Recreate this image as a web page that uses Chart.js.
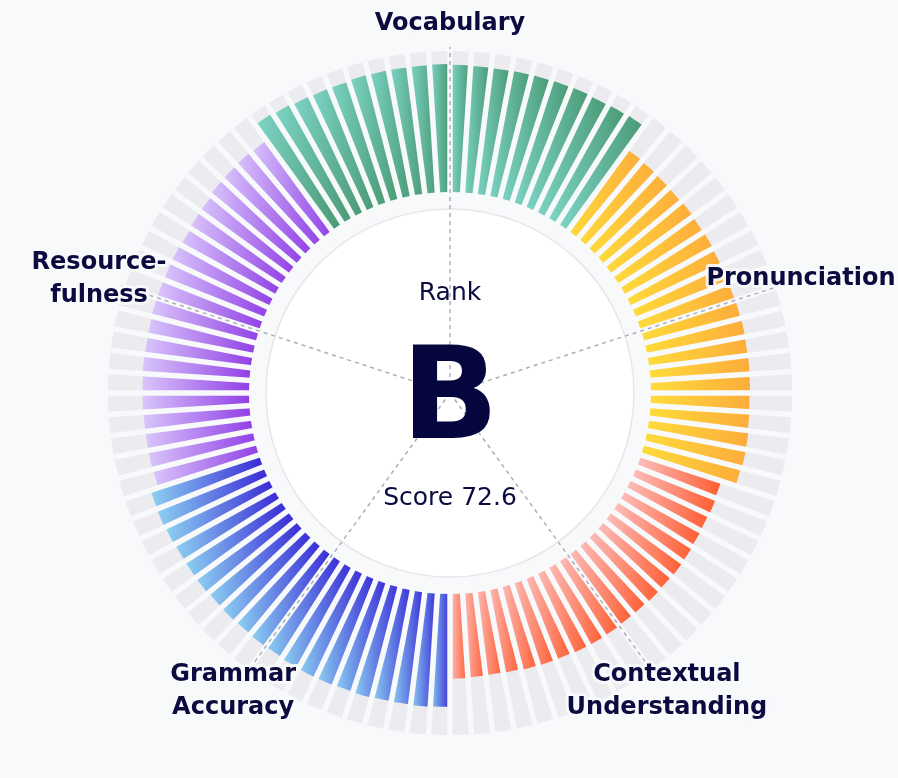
<!DOCTYPE html>
<html>
<head>
<meta charset="utf-8">
<title>Skill ring</title>
<script src="https://cdn.jsdelivr.net/npm/chart.js@4.4.1/dist/chart.umd.min.js"></script>
<style>
  html, body { margin: 0; padding: 0; background: #f8f9fb; }
  canvas { display: block; }
</style>
</head>
<body>
<canvas id="chart" width="898" height="778"></canvas>
<script>
const categories = ['Vocabulary', 'Pronunciation', 'Contextual Understanding', 'Grammar Accuracy', 'Resourcefulness']
const labelLines = [['Vocabulary'], ['Pronunciation'], ['Contextual', 'Understanding'], ['Grammar', 'Accuracy'], ['Resource-', 'fulness']]

// 20 bars per category, clockwise from the left edge of each sector
const vocabulary = [92.5, 91.4, 90.3, 89.9, 89.8, 90.4, 90.4, 90.4, 90.4, 90.7, 90.2, 89.9, 89.7, 90.2, 90.3, 90.6, 90.8, 90.3, 90.8, 91.3]
const pronunciation = [71.2, 70.8, 70.4, 70.0, 70.6, 70.1, 70.4, 69.9, 70.1, 69.8, 70.2, 70.5, 70.2, 70.4, 70.2, 69.9, 70.2, 70.9, 71.1, 70.4]
const contextual = [59.7, 60.4, 60.0, 60.5, 61.1, 61.6, 61.2, 61.6, 61.1, 61.2, 61.6, 61.8, 61.7, 60.9, 60.8, 60.4, 59.5, 59.1, 59.4, 60.0]
const grammar = [80.0, 80.4, 80.1, 80.0, 80.6, 80.1, 80.6, 80.7, 80.2, 79.6, 79.9, 79.4, 79.9, 79.6, 80.3, 80.2, 80.0, 80.6, 81.1, 80.7]
const resourcefulness = [74.9, 75.2, 75.1, 75.2, 75.5, 75.5, 75.9, 75.5, 75.6, 76.0, 75.7, 75.6, 75.7, 75.1, 76.0, 76.6, 78.3, 78.7, 79.2, 78.8]

const rank = 'B'
const score = 72.6
const MAX_VALUE = 100

// left -> right colour of each bar, per category
const GRADIENTS = [
  ['#7fd6c8', '#489872'],
  ['#ffdb3a', '#fcac3b'],
  ['#fcbfbd', '#fe5c30'],
  ['#8dd2f1', '#3828d6'],
  ['#d9c5fb', '#9140e5']
]

const PAGE_BG = '#f8f9fb'
const TRACK_COLOR = '#ebebf0'
const TEXT_COLOR = '#0c0b40'
const FONT = '"DejaVu Sans", "Noto Sans", sans-serif'

const series = [vocabulary, pronunciation, contextual, grammar, resourcefulness]
const BARS = vocabulary.length
const values = series.flat()
const labels = values.map((v, i) => categories[Math.floor(i / BARS)])
const trackValues = values.map(() => MAX_VALUE)

// value 0 sits on the inner edge of the ring (201px of a 342px radius)
const SCALE_MIN = -MAX_VALUE * 201 / (342 - 201)

function barGradient (context) {
  const k = Math.floor(context.dataIndex / BARS)
  const [left, right] = GRADIENTS[k]
  const chart = context.chart
  const scale = chart.scales.r
  if (!chart.chartArea || !scale || scale.xCenter === undefined) return right

  const i = context.dataIndex
  const r0 = scale.getDistanceFromCenterForValue(0)
  const r1 = scale.getDistanceFromCenterForValue(context.raw)
  const a0 = scale.getIndexAngle(i) - Math.PI / 2
  const a1 = a0 + 2 * Math.PI / values.length
  const xs = [r0, r1].flatMap(r => [a0, a1].map(a => scale.xCenter + r * Math.cos(a)))
  const g = chart.ctx.createLinearGradient(Math.min(...xs), 0, Math.max(...xs) + 0.01, 0)
  g.addColorStop(0, left)
  g.addColorStop(1, right)
  return g
}

const ringPlugin = {
  id: 'ring',
  afterDraw (chart) {
    const { ctx } = chart
    const scale = chart.scales.r
    const cx = scale.xCenter
    const cy = scale.yCenter
    const inner = scale.getDistanceFromCenterForValue(0)

    ctx.save()
    ctx.beginPath()
    ctx.arc(cx, cy, inner, 0, Math.PI * 2)
    ctx.fillStyle = PAGE_BG
    ctx.fill()

    ctx.beginPath()
    ctx.arc(cx, cy, inner - 17, 0, Math.PI * 2)
    ctx.fillStyle = '#ffffff'
    ctx.fill()
    ctx.lineWidth = 1.5
    ctx.strokeStyle = '#e6e7eb'
    ctx.stroke()

    // dashed sector axes
    ctx.setLineDash([4, 4])
    ctx.lineWidth = 1.5
    ctx.strokeStyle = '#adaeb6'
    categories.forEach((c, k) => {
      const p = scale.getPointPosition(k * BARS + BARS / 2, scale.drawingArea + 4)
      ctx.beginPath()
      ctx.moveTo(cx, cy)
      ctx.lineTo(p.x, p.y)
      ctx.stroke()
    })
    ctx.setLineDash([])

    // centre
    ctx.fillStyle = TEXT_COLOR
    ctx.textAlign = 'center'
    ctx.textBaseline = 'alphabetic'
    ctx.font = '25px ' + FONT
    ctx.fillText('Rank', cx, cy - 93)
    ctx.fillStyle = '#06063f'
    ctx.font = 'bold 128px ' + FONT
    ctx.fillText(rank, cx, cy + 45)
    ctx.fillStyle = TEXT_COLOR
    ctx.font = '25px ' + FONT
    ctx.fillText('Score ' + score, cx, cy + 112)

    // category labels
    ctx.font = 'bold 24px ' + FONT
    ctx.textBaseline = 'middle'
    ctx.lineJoin = 'round'
    labelLines.forEach((lines, k) => {
      const p = scale.getPointPosition(k * BARS + BARS / 2, scale.drawingArea + 27)
      lines.forEach((line, j) => {
        const y = p.y + (j - (lines.length - 1) / 2) * 33
        ctx.strokeStyle = 'rgba(248, 249, 251, 0.9)'
        ctx.lineWidth = 6
        ctx.strokeText(line, p.x, y)
        ctx.fillStyle = TEXT_COLOR
        ctx.fillText(line, p.x, y)
      })
    })
    ctx.restore()
  }
}

new Chart(document.getElementById('chart'), {
  type: 'polarArea',
  data: {
    labels,
    datasets: [
      { label: 'Score', data: values, backgroundColor: barGradient, borderWidth: 0 },
      { label: 'Max', data: trackValues, backgroundColor: TRACK_COLOR, borderWidth: 0 }
    ]
  },
  options: {
    responsive: false,
    animation: false,
    layout: { padding: { left: 108, right: 106, top: 51, bottom: 43 } },
    plugins: {
      legend: { display: false },
      tooltip: { enabled: false }
    },
    scales: {
      r: {
        min: SCALE_MIN,
        max: MAX_VALUE,
        startAngle: -36,
        ticks: { display: false },
        grid: { display: false, z: 1 },
        angleLines: { display: true, color: PAGE_BG, lineWidth: 5.5 },
        pointLabels: { display: false }
      }
    }
  },
  plugins: [ringPlugin]
})
</script>
</body>
</html>
